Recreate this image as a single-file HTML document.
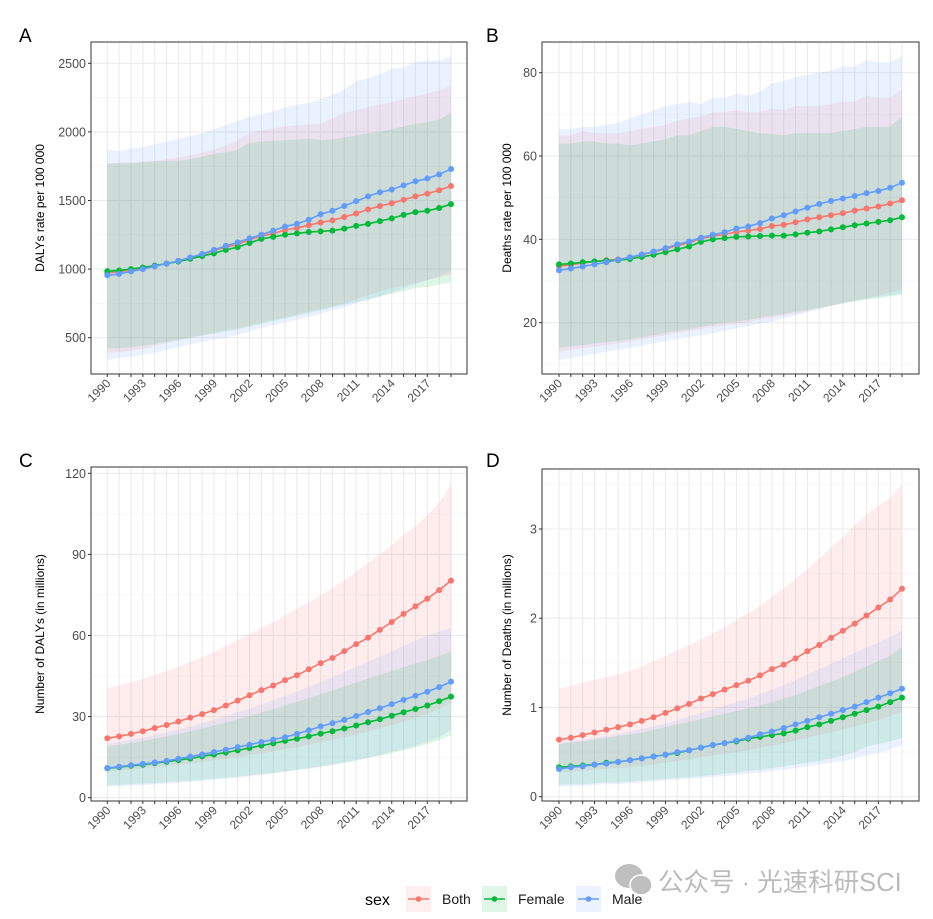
<!DOCTYPE html>
<html><head><meta charset="utf-8">
<style>
html,body{margin:0;padding:0;background:#fff;}
svg{display:block;font-family:"Liberation Sans","Noto Sans CJK SC",sans-serif;}
</style></head>
<body>
<svg id="fig" width="933" height="919" viewBox="0 0 933 919" xmlns="http://www.w3.org/2000/svg">
<rect width="933" height="919" fill="#fff"/>
<g id="panels"></g>
<g>
  <text x="365" y="905" font-size="16" fill="#000">sex</text>
  <g>
    <rect x="406" y="886" width="25" height="26" fill="#F8766D" fill-opacity="0.12"/>
    <line x1="408" y1="899" x2="429" y2="899" stroke="#F8766D" stroke-width="1.5"/><circle cx="418.5" cy="899" r="2.8" fill="#F8766D"/>
    <text x="442" y="904" font-size="14" fill="#1a1a1a">Both</text>
  </g>
  <g>
    <rect x="482" y="886" width="25" height="26" fill="#00BA38" fill-opacity="0.12"/>
    <line x1="484" y1="899" x2="505" y2="899" stroke="#00BA38" stroke-width="1.5"/><circle cx="494.5" cy="899" r="2.8" fill="#00BA38"/>
    <text x="518" y="904" font-size="14" fill="#1a1a1a">Female</text>
  </g>
  <g>
    <rect x="576" y="886" width="25" height="26" fill="#619CFF" fill-opacity="0.12"/>
    <line x1="578" y1="899" x2="599" y2="899" stroke="#619CFF" stroke-width="1.5"/><circle cx="588.5" cy="899" r="2.8" fill="#619CFF"/>
    <text x="612" y="904" font-size="14" fill="#1a1a1a">Male</text>
  </g>
</g>
<g opacity="0.85">
  <ellipse cx="629" cy="876" rx="14" ry="12" fill="#b5b5b5"/>
  <ellipse cx="641" cy="885" rx="11" ry="10" fill="#b5b5b5" stroke="#fff" stroke-width="1.5"/>
  <text x="658" y="891" font-size="25.5" fill="#b0b0b0">公众号 · 光速科研SCI</text>
</g>
</svg>
<script>
const years = [1990,1991,1992,1993,1994,1995,1996,1997,1998,1999,2000,2001,2002,2003,2004,2005,2006,2007,2008,2009,2010,2011,2012,2013,2014,2015,2016,2017,2018,2019];
const yearLabels = ["1990","1993","1996","1999","2002","2005","2008","2011","2014","2017"];
const seriesNames = ["Both","Female","Male"];
const seriesColors = ["#F8766D","#00BA38","#619CFF"];

// Panel A: DALYs rate
const aBoth = [975,980,995,1010,1025,1040,1060,1085,1105,1135,1160,1180,1215,1240,1260,1285,1300,1320,1340,1355,1380,1405,1435,1460,1480,1505,1530,1550,1575,1606];
const aFemale = [985,990,1000,1012,1025,1040,1055,1075,1095,1115,1140,1160,1190,1220,1235,1250,1260,1270,1275,1280,1295,1315,1330,1350,1370,1395,1415,1425,1445,1474];
const aMale = [955,965,983,1000,1020,1040,1060,1085,1110,1140,1170,1195,1225,1250,1280,1310,1330,1360,1400,1425,1460,1495,1530,1560,1580,1610,1640,1660,1690,1730];
const aBothU = [1770,1775,1780,1785,1790,1800,1815,1830,1850,1870,1900,1940,1990,2010,2025,2040,2050,2055,2060,2100,2140,2160,2180,2200,2220,2240,2260,2280,2300,2340];
const aBothL = [390,395,405,420,440,460,480,500,520,540,555,570,590,610,630,650,670,690,710,730,750,780,810,840,860,880,900,920,940,960];
const aFemaleU = [1770,1770,1770,1780,1785,1790,1790,1800,1820,1840,1850,1870,1920,1930,1935,1940,1945,1950,1940,1945,1960,1975,1990,2000,2020,2040,2060,2070,2090,2140];
const aFemaleL = [420,425,430,440,455,470,485,500,515,530,545,560,580,600,620,640,660,680,700,720,740,760,780,800,820,840,860,870,885,905];
const aMaleU = [1870,1860,1880,1890,1910,1930,1950,1970,1990,2020,2050,2080,2110,2130,2150,2180,2200,2210,2240,2270,2310,2370,2390,2420,2460,2470,2510,2520,2520,2550];
const aMaleL = [340,350,360,375,390,410,430,450,470,485,500,520,545,570,590,610,630,650,675,700,720,750,770,800,830,860,890,920,950,990];
const aTicks = [500,1000,1500,2000,2500];

// Panel B: Deaths rate
const bBoth = [33.6,33.9,34.3,34.7,35.0,35.2,35.6,36.3,37.0,37.7,38.5,39.2,40.2,40.8,41.2,41.8,42.1,42.5,43.2,43.5,44.1,44.8,45.3,45.8,46.3,46.9,47.4,47.9,48.6,49.4];
const bFemale = [34.0,34.2,34.5,34.7,34.9,35.0,35.3,35.8,36.3,36.9,37.6,38.3,39.4,40.0,40.3,40.6,40.7,40.8,40.9,40.9,41.2,41.6,41.9,42.4,42.9,43.4,43.8,44.2,44.6,45.3];
const bMale = [32.6,33.0,33.5,34.0,34.5,35.1,35.7,36.4,37.1,37.9,38.8,39.5,40.4,41.1,41.7,42.6,43.1,43.9,45.0,45.8,46.7,47.6,48.5,49.2,49.8,50.4,51.1,51.6,52.4,53.6];
const bBothU = [65,65,66,65.5,65.5,65.5,66,66.5,67,67.5,68.5,69,69.5,70.5,70.5,71,70.5,70.5,71.5,71,72,72,72,72.5,73,73,74.5,74,74,76];
const bBothL = [13,13.5,14,14.3,14.6,15,15.5,16,16.5,17,17.5,18,18.5,19,19.3,19.7,20.2,20.7,21.2,21.7,22.2,22.8,23.4,24,24.7,25.3,25.8,26.5,27.3,28];
const bFemaleU = [63,63,63.5,63.5,63,63,62.5,63,63.5,64,65,65,66,67,67,66.5,66,65.5,65.3,65,65.5,65.5,65.5,65.5,66,66.5,67,67,67,69.5];
const bFemaleL = [14,14.3,14.6,15,15.3,15.6,16,16.5,17,17.5,18,18.5,19,19.5,20,20.3,20.7,21.2,21.7,22.1,22.6,23.1,23.6,24.1,24.6,25.1,25.5,25.9,26.3,26.7];
const bMaleU = [66.5,66.5,67,67,67.5,68,69,70,71,72,72.5,73,72.5,74,74,75,74.5,75.5,77.5,78,79,79.5,80,80.5,81.5,81.5,83,82.5,82.5,84];
const bMaleL = [11,11.5,12,12.5,13,13.5,14,14.5,15,15.5,16,16.5,17,17.5,18,18.7,19.3,19.8,20.3,21,21.7,22.5,23.2,24,24.8,25.3,25.7,26.2,26.6,27];
const bTicks = [20,40,60,80];

// Panel C: Number of DALYs (millions)
const cBoth = [22,22.7,23.6,24.6,25.8,26.9,28.2,29.6,30.9,32.4,34.1,35.9,37.9,39.8,41.5,43.5,45.3,47.5,49.8,51.7,54.2,56.8,59.2,62.1,65,68,70.8,73.6,76.8,80.3];
const cFemale = [10.9,11.3,11.8,12.2,12.8,13.3,13.9,14.5,15.3,16,16.7,17.5,18.4,19.3,20.1,21,21.8,22.7,23.7,24.6,25.6,26.7,27.9,29,30.3,31.6,32.8,34.1,35.7,37.4];
const cMale = [11,11.5,12,12.5,13,13.6,14.4,15.2,16,16.9,17.8,18.7,19.6,20.6,21.5,22.4,23.6,24.9,26.4,27.6,28.8,30.2,31.7,33.1,34.6,36.2,37.7,39.2,40.9,42.9];
const cBothU = [40.6,41.5,42.6,43.9,45.3,46.8,48.4,50.2,52,54,56.2,58.4,60.6,62.8,65,67.4,69.8,72.3,74.9,77.6,80.5,83.6,86.8,90.1,93.5,97,100.6,104.4,109,116];
const cBothL = [9.7,10,10.4,10.8,11.2,11.7,12.2,12.7,13.2,13.8,14.4,15,15.7,16.4,17.1,17.9,18.7,19.6,20.5,21.4,22.4,23.4,24.5,25.6,26.8,28.1,29.5,31,32.8,35];
const cFemaleU = [19,19.6,20.3,21,21.8,22.7,23.6,24.6,25.6,26.7,27.8,29,30.2,31.5,32.8,34.1,35.5,36.9,38.3,39.7,41.1,42.6,44,45.4,46.8,48.3,49.7,51,52.5,54];
const cFemaleL = [4.6,4.8,5,5.2,5.4,5.7,6,6.3,6.6,7,7.4,7.8,8.2,8.7,9.2,9.7,10.3,10.9,11.5,12.2,12.9,13.7,14.6,15.5,16.5,17.5,18.6,19.8,21.3,23];
const cMaleU = [20,20.7,21.5,22.3,23.2,24.2,25.3,26.4,27.6,28.9,30.2,31.6,33,34.5,36,37.6,39.3,41,42.8,44.6,46.5,48.4,50.3,52.2,54.2,56.2,58.2,60,61.4,62.7];
const cMaleL = [4,4.2,4.4,4.6,4.9,5.2,5.5,5.8,6.2,6.6,7,7.4,7.9,8.4,8.9,9.5,10.1,10.8,11.5,12.2,13,13.9,14.8,15.8,16.9,18,19.3,20.7,22.5,25];
const cTicks = [0,30,60,90,120];

// Panel D: Number of Deaths (millions)
const dBoth = [0.64,0.66,0.69,0.72,0.75,0.78,0.81,0.85,0.89,0.94,0.99,1.04,1.10,1.15,1.20,1.25,1.30,1.36,1.43,1.48,1.55,1.63,1.70,1.78,1.86,1.94,2.03,2.12,2.21,2.33];
const dFemale = [0.33,0.34,0.35,0.36,0.38,0.39,0.41,0.43,0.45,0.47,0.49,0.52,0.55,0.58,0.60,0.62,0.65,0.67,0.69,0.71,0.74,0.78,0.81,0.85,0.89,0.93,0.97,1.01,1.06,1.11];
const dMale = [0.31,0.33,0.34,0.36,0.37,0.39,0.41,0.43,0.45,0.47,0.50,0.52,0.55,0.58,0.60,0.63,0.66,0.70,0.73,0.77,0.81,0.85,0.89,0.93,0.97,1.01,1.06,1.11,1.16,1.21];
const dBothU = [1.21,1.24,1.28,1.31,1.34,1.37,1.41,1.46,1.52,1.58,1.64,1.70,1.76,1.83,1.90,1.98,2.06,2.14,2.24,2.34,2.44,2.55,2.67,2.79,2.91,3.04,3.17,3.26,3.35,3.50];
const dBothL = [0.27,0.28,0.29,0.30,0.31,0.32,0.33,0.35,0.36,0.38,0.40,0.42,0.44,0.46,0.48,0.50,0.52,0.55,0.57,0.60,0.63,0.66,0.69,0.72,0.75,0.79,0.82,0.86,0.90,0.95];
const dFemaleU = [0.59,0.61,0.62,0.64,0.66,0.68,0.70,0.72,0.75,0.78,0.81,0.84,0.87,0.90,0.93,0.96,0.99,1.02,1.06,1.10,1.14,1.19,1.24,1.29,1.34,1.40,1.46,1.52,1.58,1.68];
const dFemaleL = [0.13,0.14,0.14,0.15,0.16,0.16,0.17,0.18,0.19,0.20,0.21,0.22,0.23,0.24,0.26,0.27,0.29,0.30,0.32,0.34,0.36,0.38,0.40,0.43,0.46,0.50,0.56,0.59,0.62,0.66];
const dMaleU = [0.60,0.62,0.64,0.66,0.68,0.70,0.73,0.76,0.79,0.82,0.86,0.90,0.94,0.98,1.02,1.06,1.10,1.15,1.20,1.25,1.31,1.37,1.43,1.49,1.55,1.61,1.67,1.73,1.79,1.86];
const dMaleL = [0.11,0.12,0.12,0.13,0.14,0.14,0.15,0.16,0.17,0.18,0.19,0.20,0.21,0.22,0.23,0.24,0.26,0.27,0.29,0.30,0.32,0.34,0.36,0.38,0.40,0.43,0.46,0.49,0.53,0.58];
const dTicks = [0,1,2,3];

const NS = "http://www.w3.org/2000/svg";
function mk(tag, attrs, parent){
  const e = document.createElementNS(NS, tag);
  for (const k in attrs) e.setAttribute(k, attrs[k]);
  parent.appendChild(e);
  return e;
}

function drawPanel(p){
  const root = document.getElementById('panels');
  const g = mk('g', {}, root);
  
  
  const xs = v => p.x0 + (v - years[0]) * (p.x1 - p.x0) / (years[years.length-1] - years[0]);
  const ys = v => p.yRef0 + (v - p.vRef0) * (p.yRef1 - p.yRef0) / (p.vRef1 - p.vRef0);

  const letter = mk('text', {x: p.lx, y: p.ly, 'font-size': 19, fill: '#000'}, g);
  letter.textContent = p.id;
  
  

  const grid = mk('g', {}, g);
  
  
  const step = p.ticks[1] - p.ticks[0];
  for (let v = p.ticks[0] - step/2; v <= p.ticks[p.ticks.length-1] + step; v += step){
    const y = ys(v);
    if (y > p.top && y < p.bottom) mk('line', {x1:p.left, x2:p.right, y1:y, y2:y, stroke:'#f2f2f2', 'stroke-width':0.6}, grid);
  }
  p.ticks.forEach(v => { const y = ys(v); mk('line', {x1:p.left, x2:p.right, y1:y, y2:y, stroke:'#ebebeb', 'stroke-width':1.1}, grid); });
  years.forEach(yr => { const x = xs(yr); mk('line', {x1:x, x2:x, y1:p.top, y2:p.bottom, stroke:'#ebebeb', 'stroke-width':1.1}, grid); });

  p.series.forEach((s, i) => {
    let d = '';
    years.forEach((yr, j) => { d += (j ? 'L' : 'M') + xs(yr).toFixed(2) + ',' + ys(s.u[j]).toFixed(2); });
    for (let j = years.length - 1; j >= 0; j--) d += 'L' + xs(years[j]).toFixed(2) + ',' + ys(s.l[j]).toFixed(2);
    const band = mk('path', {d: d + 'Z', fill: seriesColors[i], 'fill-opacity': 0.13}, g);
    
    
  });
  p.series.forEach((s, i) => {
    const pts = years.map((yr, j) => xs(yr).toFixed(2) + ',' + ys(s.v[j]).toFixed(2)).join(' ');
    const line = mk('polyline', {points: pts, fill: 'none', stroke: seriesColors[i], 'stroke-width': 1.6}, g);
    
    
    years.forEach((yr, j) => {
      const c = mk('circle', {cx: xs(yr), cy: ys(s.v[j]), r: 3, fill: seriesColors[i]}, g);
      
      
    });
  });
  mk('rect', {x:p.left, y:p.top, width:p.right-p.left, height:p.bottom-p.top, fill:'none', stroke:'#333', 'stroke-width':1}, g);

  const yAxis = mk('g', {}, g);
  
  
  p.ticks.forEach(v => {
    const y = ys(v);
    mk('line', {x1:p.left-3, x2:p.left, y1:y, y2:y, stroke:'#333', 'stroke-width':1}, yAxis);
    const t = mk('text', {x:p.left-5, y:y+4.5, 'font-size':12.5, fill:'#4d4d4d', 'text-anchor':'end'}, yAxis);
    t.textContent = String(v);
    
    
  });
  const yt = mk('text', {x:0, y:0, 'font-size':12, fill:'#000', 'text-anchor':'middle', transform:'translate(' + p.titleX + ',' + ((p.top+p.bottom)/2) + ') rotate(-90)'}, g);
  yt.textContent = p.title;
  
  

  const xAxis = mk('g', {}, g);
  
  
  years.forEach(yr => { const x = xs(yr); mk('line', {x1:x, x2:x, y1:p.bottom, y2:p.bottom+3, stroke:'#333', 'stroke-width':1}, xAxis); });
  yearLabels.forEach(lbl => {
    const x = xs(Number(lbl));
    const t = mk('text', {x:0, y:0, 'font-size':12, fill:'#4d4d4d', 'text-anchor':'end', transform:'translate(' + (x+4) + ',' + (p.bottom+10) + ') rotate(-45)'}, xAxis);
    t.textContent = lbl;
    
    
  });
}

drawPanel({id:'A', lx:19, ly:42, left:91, right:467, top:42, bottom:374, x0:107.3, x1:451, yRef0:63.3, vRef0:2500, yRef1:337.7, vRef1:500, ticks:aTicks, titleX:44, title:'DALYs rate per 100 000',
  series:[{v:aBoth,u:aBothU,l:aBothL},{v:aFemale,u:aFemaleU,l:aFemaleL},{v:aMale,u:aMaleU,l:aMaleL}]});
drawPanel({id:'B', lx:486, ly:42, left:542, right:919, top:42, bottom:374, x0:559, x1:902, yRef0:72.7, vRef0:80, yRef1:322.7, vRef1:20, ticks:bTicks, titleX:511, title:'Deaths rate per 100 000',
  series:[{v:bBoth,u:bBothU,l:bBothL},{v:bFemale,u:bFemaleU,l:bFemaleL},{v:bMale,u:bMaleU,l:bMaleL}]});
drawPanel({id:'C', lx:19, ly:467, left:91, right:467, top:467, bottom:801, x0:107.3, x1:451, yRef0:797.7, vRef0:0, yRef1:473.3, vRef1:120, ticks:cTicks, titleX:44, title:'Number of DALYs (in millions)',
  series:[{v:cBoth,u:cBothU,l:cBothL},{v:cFemale,u:cFemaleU,l:cFemaleL},{v:cMale,u:cMaleU,l:cMaleL}]});
drawPanel({id:'D', lx:486, ly:467, left:542, right:919, top:469, bottom:801, x0:559, x1:902, yRef0:796.7, vRef0:0, yRef1:529, vRef1:3, ticks:dTicks, titleX:511, title:'Number of Deaths (in millions)',
  series:[{v:dBoth,u:dBothU,l:dBothL},{v:dFemale,u:dFemaleU,l:dFemaleL},{v:dMale,u:dMaleU,l:dMaleL}]});
</script>
</body></html>
